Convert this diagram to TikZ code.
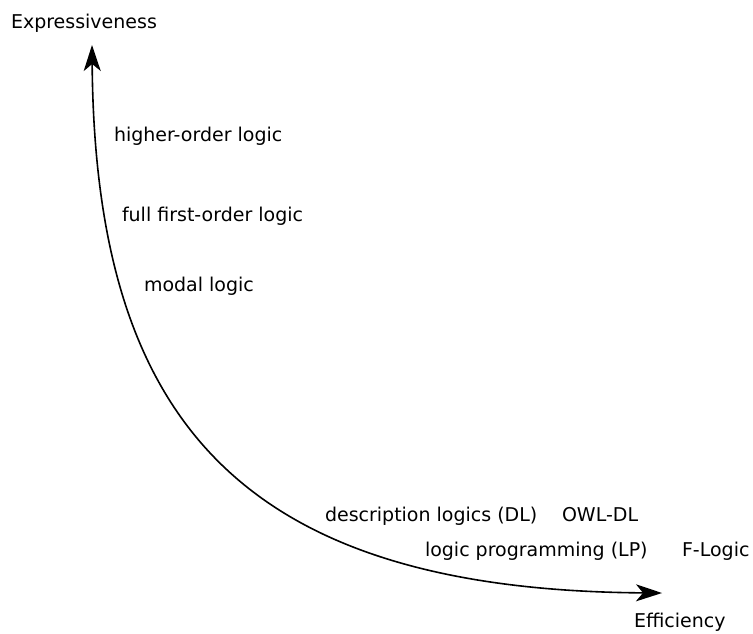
\documentclass[tikz,border=0pt]{standalone}
\usepackage{fontspec}
\setmainfont{DejaVu Sans}
\usetikzlibrary{arrows.meta}
\begin{document}
\begin{tikzpicture}[x=0.5pt,y=-0.5pt,
  lbl/.style={anchor=base west, inner sep=0pt, outer sep=0pt, font=\fontsize{9.5}{11}\selectfont},
  tradeoff/.style={line width=0.8pt, line cap=round,
    {Stealth[length=13pt,width=8.5pt,inset=3.5pt]}-{Stealth[length=13pt,width=8.5pt,inset=3.5pt]}}]
\useasboundingbox (0,0) rectangle (753,633);
\coordinate (top) at (92,45);
\coordinate (right) at (662,593);
\coordinate (c1) at (95,420);
\coordinate (c2) at (240,590);
\draw[tradeoff] (top) .. controls (c1) and (c2) .. (right);
\node[lbl] (expr) at (11,28) {Expressiveness};
\node[lbl] (eff) at (634,627) {Efficiency};
\node[lbl] (hol) at (114,141) {higher-order logic};
\node[lbl] (fol) at (122,221) {full first-order logic};
\node[lbl] (ml) at (144,291) {modal logic};
\node[lbl] (dl) at (325,521) {description logics (DL)};
\node[lbl] (owl) at (562,521) {OWL-DL};
\node[lbl] (lp) at (425,556) {logic programming (LP)};
\node[lbl] (fl) at (682,556) {F-Logic};
\end{tikzpicture}
\end{document}
